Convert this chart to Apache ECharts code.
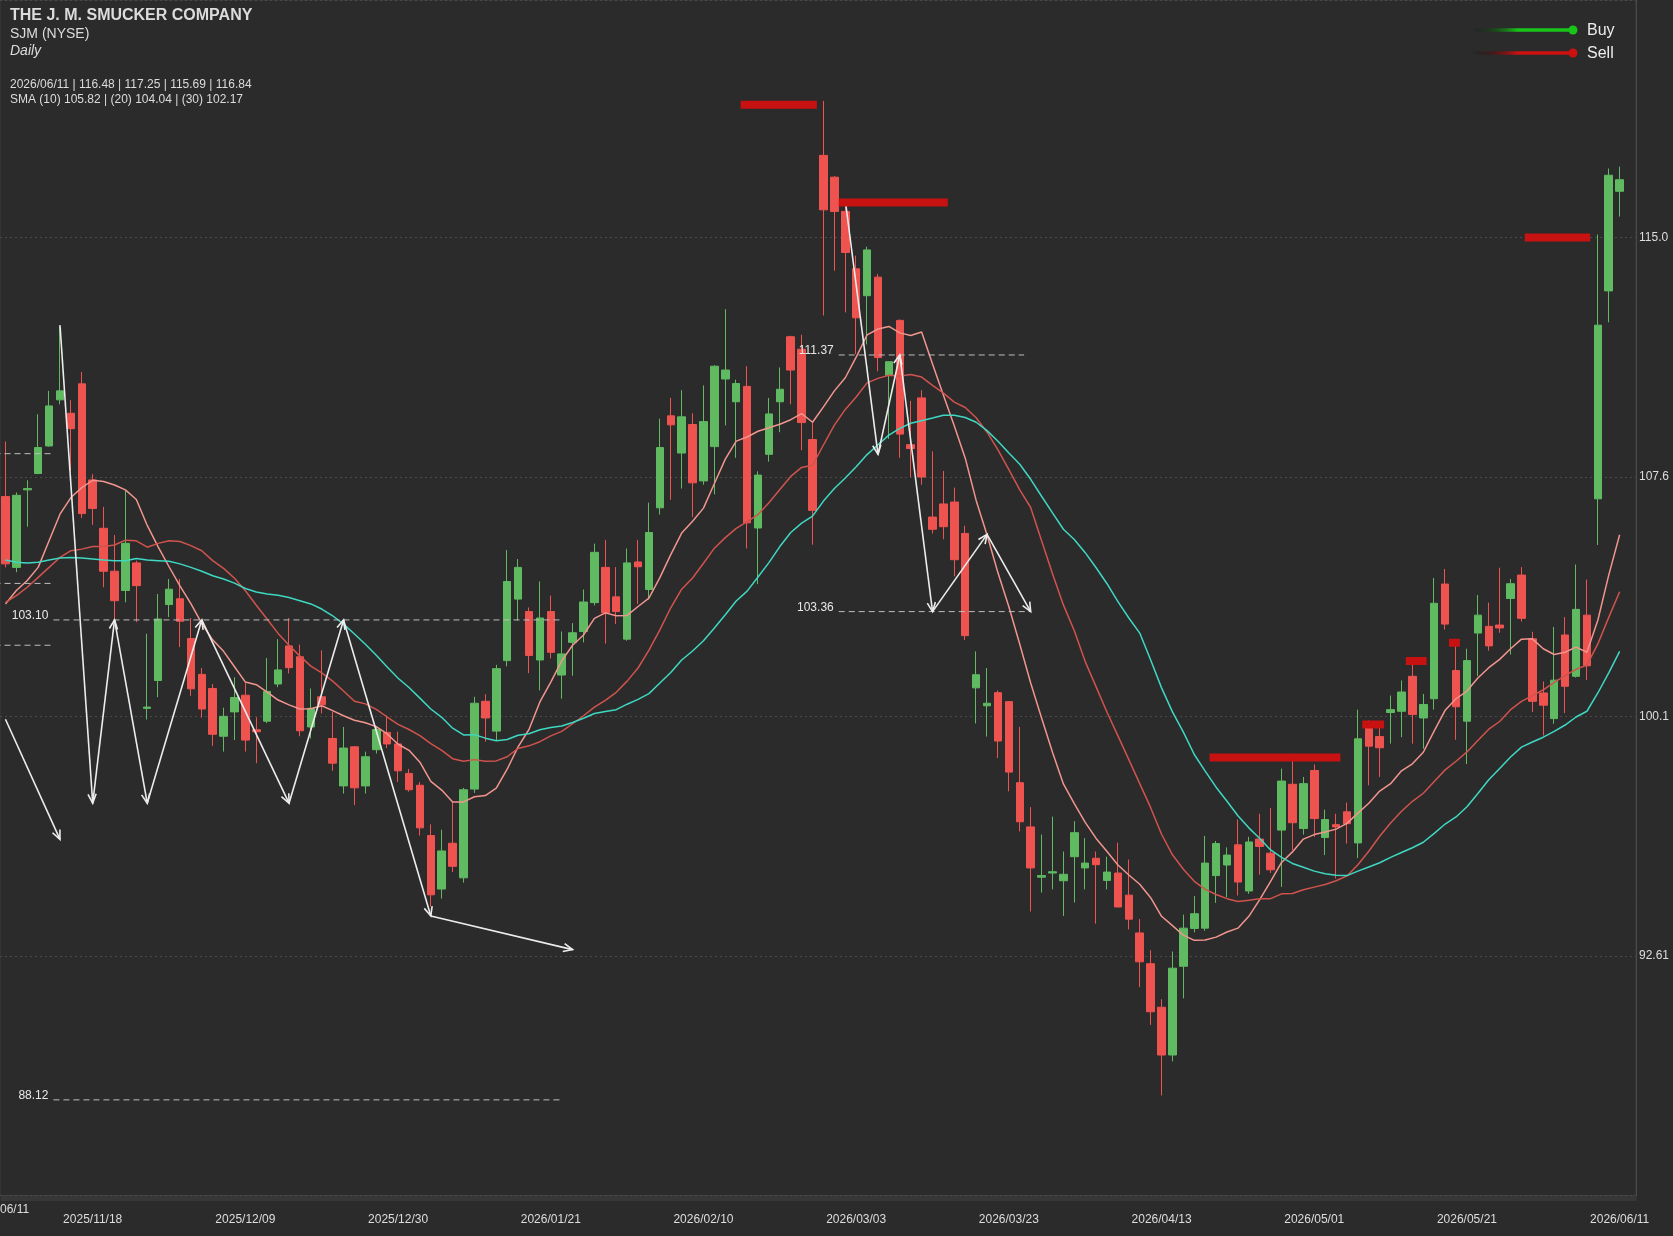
<!DOCTYPE html>
<html>
<head>
<meta charset="utf-8">
<title>SJM Daily</title>
<script src="https://cdn.jsdelivr.net/npm/echarts@6/dist/echarts.min.js"></script>
<style>
  html, body { margin: 0; padding: 0; background: #2b2b2b; }
  #main { width: 1673px; height: 1236px; }
</style>
</head>
<body>
<div id="main"></div>
<script type="text/javascript">
var FONT = 'Liberation Sans, Arial, Helvetica, sans-serif';

var companyName = 'THE J. M. SMUCKER COMPANY';
var tickerLabel = 'SJM (NYSE)';
var periodLabel = 'Daily';
var smaLast = [105.82, 104.04, 102.17];

// trading days, one per candle
var dates = [
  '2025/11/06','2025/11/07','2025/11/10','2025/11/11','2025/11/12','2025/11/13','2025/11/14','2025/11/17','2025/11/18',
  '2025/11/19','2025/11/20','2025/11/21','2025/11/24','2025/11/25','2025/11/26','2025/11/28','2025/12/01','2025/12/02',
  '2025/12/03','2025/12/04','2025/12/05','2025/12/08','2025/12/09','2025/12/10','2025/12/11','2025/12/12','2025/12/15',
  '2025/12/16','2025/12/17','2025/12/18','2025/12/19','2025/12/22','2025/12/23','2025/12/24','2025/12/26','2025/12/29',
  '2025/12/30','2025/12/31','2026/01/02','2026/01/05','2026/01/06','2026/01/07','2026/01/08','2026/01/09','2026/01/12',
  '2026/01/13','2026/01/14','2026/01/15','2026/01/16','2026/01/20','2026/01/21','2026/01/22','2026/01/23','2026/01/26',
  '2026/01/27','2026/01/28','2026/01/29','2026/01/30','2026/02/02','2026/02/03','2026/02/04','2026/02/05','2026/02/06',
  '2026/02/09','2026/02/10','2026/02/11','2026/02/12','2026/02/13','2026/02/17','2026/02/18','2026/02/19','2026/02/20',
  '2026/02/23','2026/02/24','2026/02/25','2026/02/26','2026/02/27','2026/03/02','2026/03/03','2026/03/04','2026/03/05',
  '2026/03/06','2026/03/09','2026/03/10','2026/03/11','2026/03/12','2026/03/13','2026/03/16','2026/03/17','2026/03/18',
  '2026/03/19','2026/03/20','2026/03/23','2026/03/24','2026/03/25','2026/03/26','2026/03/27','2026/03/30','2026/03/31',
  '2026/04/01','2026/04/02','2026/04/06','2026/04/07','2026/04/08','2026/04/09','2026/04/10','2026/04/13','2026/04/14',
  '2026/04/15','2026/04/16','2026/04/17','2026/04/20','2026/04/21','2026/04/22','2026/04/23','2026/04/24','2026/04/27',
  '2026/04/28','2026/04/29','2026/04/30','2026/05/01','2026/05/04','2026/05/05','2026/05/06','2026/05/07','2026/05/08',
  '2026/05/11','2026/05/12','2026/05/13','2026/05/14','2026/05/15','2026/05/18','2026/05/19','2026/05/20','2026/05/21',
  '2026/05/22','2026/05/26','2026/05/27','2026/05/28','2026/05/29','2026/06/01','2026/06/02','2026/06/03','2026/06/04',
  '2026/06/05','2026/06/08','2026/06/09','2026/06/10','2026/06/11'
];

// open, close, low, high
var ohlc = [
  [106.95,104.85,104.74,108.67],[104.74,106.99,104.59,107.08],[107.16,107.20,106.01,107.46],[107.67,108.48,107.65,109.52],
  [108.53,109.78,108.51,110.25],[109.97,110.25,109.83,112.30],[109.55,109.07,107.75,109.96],[110.47,106.42,106.28,110.84],
  [107.47,106.58,106.07,107.65],[105.96,104.62,104.12,106.63],[104.62,103.70,103.08,105.75],[104.02,105.49,103.65,107.13],
  [104.88,104.17,103.03,104.95],[100.34,100.38,99.99,102.67],[101.21,103.13,100.69,103.91],[103.58,104.06,103.19,104.38],
  [103.76,103.06,102.25,104.38],[102.52,100.95,100.73,103.16],[101.40,100.32,100.05,101.60],[100.96,99.53,99.17,101.10],
  [99.47,100.09,98.99,100.36],[100.23,100.68,99.35,101.31],[100.75,99.35,98.99,101.13],[99.67,99.61,98.63,100.06],
  [99.94,100.87,99.88,101.91],[101.10,101.54,101.00,102.50],[102.29,101.61,101.43,103.16],[101.95,99.64,99.47,102.33],
  [99.76,100.34,99.40,100.96],[100.70,100.45,100.18,102.15],[99.40,98.63,98.39,100.24],[97.92,99.10,97.68,99.76],
  [99.14,97.86,97.32,99.16],[97.92,98.83,97.68,98.99],[99.05,99.68,98.93,99.76],[99.59,99.23,99.10,100.12],
  [99.23,98.39,98.04,99.61],[98.31,97.80,97.74,98.45],[97.94,96.61,96.37,98.04],[96.37,94.52,94.16,96.72],
  [94.70,95.89,94.40,96.55],[96.13,95.41,95.23,97.44],[95.05,97.80,94.90,97.86],[97.82,100.50,97.70,100.70],
  [100.56,100.04,99.30,100.78],[99.63,101.58,99.34,101.70],[101.83,104.30,101.65,105.28],[103.75,104.74,103.08,105.00],
  [103.36,101.99,101.44,103.49],[101.85,103.16,100.90,104.30],[103.36,102.09,101.90,103.86],[101.38,102.04,100.64,102.74],
  [102.40,102.70,101.36,103.00],[102.74,103.66,102.40,104.05],[103.64,105.21,103.55,105.48],[104.74,103.32,102.36,105.60],
  [103.82,103.36,102.97,104.75],[102.50,104.88,102.45,105.33],[104.91,104.76,103.60,105.60],[104.05,105.83,103.74,106.76],
  [106.60,108.48,106.39,109.38],[109.47,109.19,106.85,110.03],[108.31,109.44,107.20,110.27],[109.20,107.38,106.31,109.55],
  [107.44,109.29,107.32,110.42],[108.51,111.02,107.02,111.05],[110.62,110.90,109.17,112.80],[109.91,110.48,108.16,110.60],
  [110.39,106.13,105.33,111.02],[105.97,107.62,104.22,107.74],[108.27,109.53,108.04,110.03],[109.91,110.30,108.96,110.98],
  [111.94,110.90,109.83,111.97],[111.55,109.26,108.40,112.00],[108.73,106.52,105.45,109.29],[117.60,115.90,112.60,119.30],
  [116.92,115.85,114.00,116.95],[115.85,114.57,112.70,116.20],[114.06,112.53,111.40,114.47],[113.22,114.65,111.70,114.75],
  [113.80,111.29,110.86,113.90],[110.74,111.16,108.75,111.17],[112.45,108.90,108.16,112.48],[108.57,108.45,107.56,109.94],
  [110.03,107.56,107.32,110.27],[106.31,105.93,105.80,108.36],[106.72,106.01,105.62,107.75],[106.78,104.98,104.46,107.23],
  [105.80,102.61,102.47,106.04],[100.98,101.39,99.87,102.12],[100.42,100.50,99.46,101.60],[100.83,99.32,98.79,100.90],
  [100.55,98.35,97.75,100.55],[98.02,96.80,96.50,99.76],[96.64,95.36,94.00,97.26],[95.07,95.12,94.59,96.40],
  [95.20,95.24,94.69,96.96],[94.96,95.16,93.86,95.87],[95.71,96.46,94.28,96.82],[95.36,95.51,94.69,96.29],
  [95.66,95.46,93.62,95.87],[94.97,95.23,94.69,95.71],[95.20,94.14,94.14,96.15],[94.51,93.76,93.44,95.62],
  [93.33,92.43,91.64,93.76],[92.37,90.87,90.46,92.79],[91.01,89.52,88.26,91.26],[89.52,92.23,89.32,92.75],
  [92.29,93.48,91.29,93.90],[93.47,93.93,93.35,94.48],[93.48,95.51,93.40,96.36],[95.12,96.12,94.27,96.20],
  [95.45,95.76,94.45,96.00],[96.08,94.92,94.50,96.87],[94.64,96.17,94.55,96.33],[96.26,96.03,95.15,97.05],
  [95.82,95.30,95.20,97.23],[96.54,98.07,94.77,98.46],[97.97,96.77,95.91,98.92],[96.59,97.99,96.40,98.20],
  [98.40,96.90,96.33,98.59],[96.31,96.87,95.76,97.18],[96.71,96.64,95.03,97.05],[97.11,96.74,96.12,97.40],
  [96.14,99.39,95.67,100.30],[99.76,99.16,97.94,99.96],[99.46,99.11,98.20,99.76],[100.21,100.30,99.24,100.74],
  [100.25,100.85,99.44,101.21],[101.34,100.15,99.24,101.73],[100.04,100.46,99.08,100.79],[100.64,103.62,100.30,104.41],
  [104.22,102.97,102.80,104.69],[101.52,100.39,99.36,102.50],[99.94,101.83,98.60,102.20],[102.69,103.25,101.35,103.88],
  [102.90,102.29,102.14,103.64],[102.94,102.85,102.70,104.73],[103.77,104.23,102.02,104.38],[104.50,103.15,103.05,104.75],
  [102.51,100.56,100.23,102.73],[100.82,100.44,99.49,101.18],[100.02,101.22,99.86,102.88],[102.63,101.03,100.19,103.19],
  [101.34,103.43,101.30,104.83],[103.25,101.67,101.22,104.36],[106.88,112.30,105.44,115.13],[113.37,116.98,112.39,117.19],
  [116.48,116.84,115.69,117.25]
];

// moving average values before a full window is available
var sma10Head = [103.60,104.02,104.33,104.74,105.57,106.40,106.92,107.23,107.46];
var sma20Head = [103.65,103.86,104.12,104.43,104.74,105.05,105.26,105.31,105.39,105.39,
                 105.44,105.59,105.57,105.37,105.49,105.57,105.55,105.42,105.26];
var sma30Head = [104.97,104.90,104.88,104.90,104.97,105.03,105.05,105.03,105.00,104.97,
                 104.95,104.95,105.02,104.97,104.95,104.93,104.85,104.74,104.62,104.48,
                 104.38,104.25,104.08,103.97,103.91,103.87,103.80,103.70,103.60];

// wave arrows: [fromIndex, fromPrice, toIndex, toPrice]
var waveArrows = [
  [0, 100.00, 5, 96.25],
  [5, 112.30, 8, 97.38], [8, 97.38, 10, 103.10], [10, 103.10, 13, 97.38], [13, 97.38, 18, 103.10],
  [18, 103.10, 26, 97.38], [26, 97.38, 31, 103.10], [31, 103.10, 39, 93.86], [39, 93.86, 52, 92.81],
  [77, 116.20, 80, 108.27], [80, 108.27, 82, 111.37], [82, 111.37, 85, 103.36],
  [85, 103.36, 90, 105.77], [90, 105.77, 94, 103.36]
];

// dashed levels: [fromIndex, toIndex, price, hasLabel]
var levels = [
  [4.4, 51.0, 103.10, 1], [4.4, 51.0, 88.12, 1],
  [-1, 4.4, 108.29, 0], [-1, 4.4, 104.24, 0], [-1, 4.4, 102.31, 0],
  [76.4, 93.4, 111.37, 1], [76.4, 94.0, 103.36, 1]
];

// sell levels: [fromIndex, toIndex, price]
var sellLevels = [
  [67.4, 74.4, 119.18], [76.4, 86.4, 116.13], [110.4, 122.4, 98.81], [124.4, 126.4, 99.84],
  [128.4, 130.3, 101.82], [132.35, 133.35, 102.39], [139.3, 145.3, 115.04]
];

var yMin = 85.135, yMax = 122.45, yStep = 7.475;

function sma(n, head) {
  var out = [];
  for (var i = 0; i < ohlc.length; i++) {
    if (i < n - 1) { out.push(head[i]); continue; }
    var s = 0;
    for (var k = i - n + 1; k <= i; k++) s += ohlc[k][1];
    out.push(+(s / n).toFixed(2));
  }
  return out;
}

function renderArrow(params, api) {
  var a = api.coord([api.value(0), api.value(1)]);
  var b = api.coord([api.value(2), api.value(3)]);
  var ang = Math.atan2(b[1] - a[1], b[0] - a[0]);
  var L = 10, w = 0.42;
  var p1 = [b[0] - L * Math.cos(ang - w), b[1] - L * Math.sin(ang - w)];
  var p2 = [b[0] - L * Math.cos(ang + w), b[1] - L * Math.sin(ang + w)];
  var st = { stroke: '#ececec', lineWidth: 1.6, fill: null };
  return {
    type: 'group',
    children: [
      { type: 'line', shape: { x1: a[0], y1: a[1], x2: b[0], y2: b[1] }, style: st },
      { type: 'polyline', shape: { points: [p1, b, p2] }, style: st }
    ]
  };
}

function renderLevel(params, api) {
  var a = api.coord([api.value(0), api.value(2)]);
  var b = api.coord([api.value(1), api.value(2)]);
  var kids = [{
    type: 'line', shape: { x1: a[0], y1: a[1], x2: b[0], y2: b[1] },
    style: { stroke: '#bdbdbd', lineWidth: 1, lineDash: [6, 4] }
  }];
  if (api.value(3)) {
    kids.push({
      type: 'text',
      style: { text: api.value(2).toFixed(2), x: a[0] - 5, y: a[1] - 4, align: 'right', verticalAlign: 'middle',
               fill: '#e8e8e8', font: '12px ' + FONT }
    });
  }
  return { type: 'group', children: kids };
}

function renderSell(params, api) {
  var a = api.coord([api.value(0), api.value(2)]);
  var b = api.coord([api.value(1), api.value(2)]);
  return { type: 'rect', shape: { x: a[0], y: a[1] - 4, width: b[0] - a[0], height: 8 }, style: { fill: '#c81212' } };
}

var last = ohlc[ohlc.length - 1];
var infoLine = dates[dates.length - 1] + ' | ' + last[0].toFixed(2) + ' | ' + last[3].toFixed(2) + ' | ' +
               last[2].toFixed(2) + ' | ' + last[1].toFixed(2);
var smaLine = 'SMA (10) ' + smaLast[0].toFixed(2) + ' | (20) ' + smaLast[1].toFixed(2) + ' | (30) ' + smaLast[2].toFixed(2);

function legendItem(y, color, label) {
  return [
    { type: 'line', shape: { x1: 1473, y1: y, x2: 1573, y2: y },
      style: { lineWidth: 3.5, stroke: new echarts.graphic.LinearGradient(0, 0, 1, 0, [
        { offset: 0, color: 'rgba(0,0,0,0)' }, { offset: 0.45, color: color }, { offset: 1, color: color }]) } },
    { type: 'circle', shape: { cx: 1573, cy: y, r: 4.5 }, style: { fill: color } },
    { type: 'text', x: 1587, y: y + 1, style: { text: label, fill: '#ececec', font: '16px ' + FONT, verticalAlign: 'middle' } }
  ];
}

var myChart = echarts.init(document.getElementById('main'));

var option = {
  backgroundColor: '#2b2b2b',
  animation: false,
  grid: { left: 0, right: 37, top: 0, bottom: 40.5, show: true, borderColor: '#3e3e3e', borderWidth: 1 },
  xAxis: [{
    type: 'category',
    data: dates.concat(['']),
    boundaryGap: true,
    axisLine: { show: false },
    axisTick: { show: false },
    splitLine: { show: false },
    axisLabel: {
      color: '#dedede', fontSize: 12, fontFamily: FONT, margin: 18,
      interval: function (idx) { return idx >= 8 && (idx - 8) % 14 === 0; }
    }
  }, {
    type: 'value', min: -0.5, max: 149.5, show: false
  }],
  yAxis: {
    type: 'value', position: 'right', min: yMin, max: yMax, interval: yStep,
    axisLine: { show: true, onZero: false, lineStyle: { color: '#4a4a4a' } },
    axisTick: { show: false },
    splitLine: { show: true, lineStyle: { color: '#4a4a4a', type: [2, 3] } },
    axisLabel: {
      color: '#dedede', fontSize: 12, fontFamily: FONT, margin: 3,
      showMinLabel: false, showMaxLabel: false,
      formatter: function (v) { return v.toPrecision(4); }
    }
  },
  dataZoom: [{
    type: 'slider', xAxisIndex: 0, start: 0, end: 100, left: 0, right: 37, bottom: 35, height: 5,
    showDetail: false, showDataShadow: false, brushSelect: false, handleSize: 0,
    borderColor: 'transparent', backgroundColor: '#303030', fillerColor: 'rgba(70,70,70,0.35)',
    moveHandleSize: 2, moveHandleStyle: { color: '#444' }
  }],
  graphic: [
    { type: 'text', left: 10, top: 8, style: { text: companyName, fill: '#dcdcdc', font: 'bold 16px ' + FONT } },
    { type: 'text', left: 10, top: 27, style: { text: tickerLabel, fill: '#dcdcdc', font: '14px ' + FONT } },
    { type: 'text', left: 10, top: 44, style: { text: periodLabel, fill: '#dcdcdc', font: 'italic 14px ' + FONT } },
    { type: 'text', left: 10, top: 79, style: { text: infoLine, fill: '#dcdcdc', font: '12px ' + FONT } },
    { type: 'text', left: 10, top: 94, style: { text: smaLine, fill: '#dcdcdc', font: '12px ' + FONT } },
    { type: 'text', left: 0, top: 1204, style: { text: '06/11', fill: '#dedede', font: '12px ' + FONT } }
  ].concat(legendItem(30, '#19c419', 'Buy'), legendItem(53, '#cc1111', 'Sell')),
  series: [
    {
      name: 'SJM', type: 'candlestick', data: ohlc, barWidth: 8,
      itemStyle: { color: '#5fba62', color0: '#ef5350', borderColor: '#5fba62', borderColor0: '#ef5350', borderWidth: 1 }
    },
    { name: 'SMA10', type: 'line', data: sma(10, sma10Head), showSymbol: false, symbol: 'none',
      lineStyle: { color: '#f1958e', width: 1.5 }, z: 3 },
    { name: 'SMA20', type: 'line', data: sma(20, sma20Head), showSymbol: false, symbol: 'none',
      lineStyle: { color: '#d0534d', width: 1.5 }, z: 3 },
    { name: 'SMA30', type: 'line', data: sma(30, sma30Head), showSymbol: false, symbol: 'none',
      lineStyle: { color: '#3ed8c3', width: 1.5 }, z: 3 },
    { name: 'levels', type: 'custom', xAxisIndex: 1, data: levels, renderItem: renderLevel, clip: true, z: 4,
      encode: { x: [0, 1], y: 2 } },
    { name: 'waves', type: 'custom', xAxisIndex: 1, data: waveArrows, renderItem: renderArrow, clip: true, z: 5,
      encode: { x: [0, 2], y: [1, 3] } },
    { name: 'Sell', type: 'custom', xAxisIndex: 1, data: sellLevels, renderItem: renderSell, clip: true, z: 6,
      encode: { x: [0, 1], y: 2 } }
  ]
};

myChart.setOption(option);
</script>
</body>
</html>
